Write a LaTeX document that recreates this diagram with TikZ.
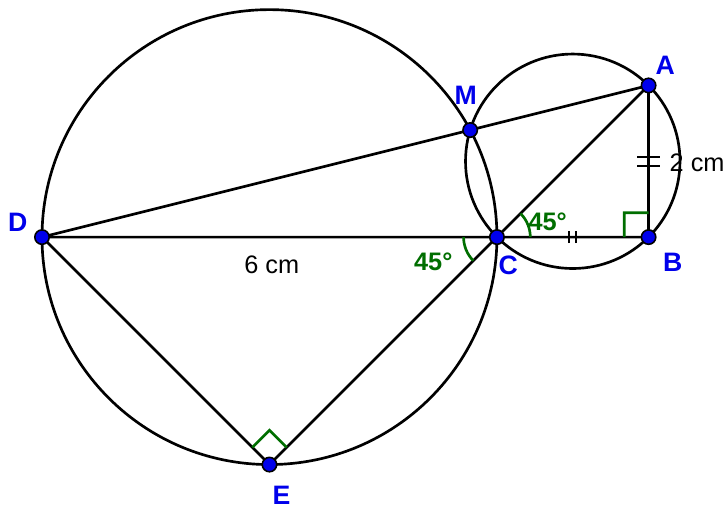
\documentclass[tikz,border=0pt]{standalone}
\usepackage{fontspec}
\setmainfont{Liberation Sans}
\usepackage{tikz}
\usetikzlibrary{calc,positioning}
\definecolor{ptBlue}{RGB}{0,0,235}
\definecolor{angGreen}{RGB}{0,110,0}

\begin{document}
\begin{tikzpicture}[line width=1pt,
  pt/.style={circle,fill=ptBlue,draw=black,line width=0.6pt,inner sep=0pt,minimum size=1.9mm},
  ptlbl/.style={text=ptBlue,font=\fontsize{10}{12}\selectfont\bfseries},
  lenlbl/.style={text=black,font=\fontsize{9.5}{11}\selectfont},
  anglbl/.style={text=angGreen,font=\fontsize{9.5}{11}\selectfont\bfseries},
  tick/.style={line width=0.8pt}]
\useasboundingbox (-6.554,-3.562) rectangle (3.021,3.127);
% points
\coordinate (C) at (0,0);
\coordinate (D) at (-6,0);
\coordinate (B) at (2,0);
\coordinate (A) at (2,2);
\coordinate (E) at (-3,-3);
\coordinate (M) at (-6/17,24/17);
\coordinate (O1) at (-3,0);
\coordinate (O2) at (1,1);
% circles
\draw (O1) circle[radius=3];
\draw (O2) circle[radius={sqrt(2)}];
% segments
\draw (D) -- (C) -- (B) -- (A) -- (C);
\draw (D) -- (A);
\draw (D) -- (E) -- (C);
% right angles
\draw[angGreen] ($(B)!0.32cm!(C)$) -- ++(0,0.32) -- ($(B)!0.32cm!(A)$);
\draw[angGreen] ($(E)!0.32cm!(D)$) -- ++(45:0.32) -- ($(E)!0.32cm!(C)$);
% angles at C
\draw[angGreen] ([shift={(0:0.44)}]C) arc[start angle=0,end angle=45,radius=0.44];
\draw[angGreen] ([shift={(180:0.44)}]C) arc[start angle=180,end angle=225,radius=0.44];
% equal marks
\draw[tick] (0.955,-0.08) -- (0.955,0.08);
\draw[tick] (1.045,-0.08) -- (1.045,0.08);
\draw[tick] (1.85,0.94) -- (2.15,0.94);
\draw[tick] (1.85,1.06) -- (2.15,1.06);
% labels
\node[anglbl] (a1) at (0.67,0.20) {45°};
\node[anglbl] (a2) at (-0.84,-0.32) {45°};
\node[lenlbl] (l6) at (-2.97,-0.37) {6 cm};
\node[lenlbl] (l2) at (2.64,0.98) {2 cm};
% dots
\foreach \p in {A,B,C,D,E,M}
  \node[pt] (n\p) at (\p) {};
\node[ptlbl] (lA) at ([shift={(0.22,0.27)}]A) {A};
\node[ptlbl] (lB) at ([shift={(0.32,-0.33)}]B) {B};
\node[ptlbl] (lC) at ([shift={(0.15,-0.37)}]C) {C};
\node[ptlbl] (lD) at ([shift={(-0.32,0.20)}]D) {D};
\node[ptlbl] (lE) at ([shift={(0.16,-0.40)}]E) {E};
\node[ptlbl] (lM) at ([shift={(-0.06,0.46)}]M) {M};
\end{tikzpicture}
\end{document}
